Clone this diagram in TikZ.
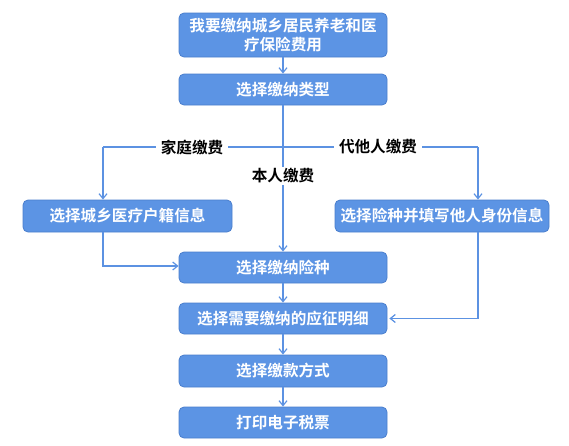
\documentclass[tikz,border=0pt]{standalone}
\usepackage{fontspec}
\setmainfont{Noto Sans CJK SC}[BoldFont={Noto Sans CJK SC Bold}]
\usetikzlibrary{arrows.meta,calc}
\definecolor{boxfill}{RGB}{92,148,228}
\definecolor{boxline}{RGB}{74,126,205}
\definecolor{conn}{RGB}{92,146,226}
\begin{document}
\begin{tikzpicture}[x=1pt,y=-1pt,
  stepbox/.style={draw=boxline,line width=0.8pt,fill=boxfill,rounded corners=5pt,
    text=white,font=\fontsize{15.6}{18.5}\selectfont\bfseries,align=center,inner sep=0pt},
  lbl/.style={fill=white,inner xsep=5pt,inner ysep=2pt,font=\fontsize{15.6}{18}\selectfont\bfseries,text=black},
  conn/.style={draw=conn,line width=1.2pt,-{Straight Barb[length=5pt,width=8pt,line width=1.2pt]}},
  plain/.style={draw=conn,line width=1.2pt}]
\useasboundingbox (0,0) rectangle (569,445);
\node[stepbox,minimum width=208pt,minimum height=44pt] (b1) at (283,35) {我要缴纳城乡居民养老和医\\疗保险费用};
\node[stepbox,minimum width=208pt,minimum height=31pt] (b2) at (283,89.5) {选择缴纳类型};
\node[stepbox,minimum width=209pt,minimum height=32pt] (lb) at (127.5,216) {选择城乡医疗户籍信息};
\node[stepbox,minimum width=214pt,minimum height=32pt] (rb) at (442,216) {选择险种并填写他人身份信息};
\node[stepbox,minimum width=208pt,minimum height=31pt] (b3) at (283,267.5) {选择缴纳险种};
\node[stepbox,minimum width=208pt,minimum height=31pt] (b4) at (283,318.5) {选择需要缴纳的应征明细};
\node[stepbox,minimum width=208pt,minimum height=32pt] (b5) at (283,371) {选择缴款方式};
\node[stepbox,minimum width=208pt,minimum height=31pt] (b6) at (283,422.5) {打印电子税票};
\coordinate (hl) at (103,147);
\coordinate (hr) at (478,147);
\coordinate (lbs) at (103,232);
\coordinate (lbc) at (103,266);
\coordinate (rbs) at (478,232);
\coordinate (rbc) at (478,318.5);
% connectors
\draw[conn] (b1) -- (b2);
\draw[conn] (b2) -- (b3);
\draw[plain] (hl) -- (hr);
\draw[conn] (hl) -- (hl |- lb.north);
\draw[conn] (hr) -- (hr |- rb.north);
\draw[conn] (lbs) -- (lbc) -- (b3.west |- lbc);
\draw[conn] (rbs) -- (rbc) -- ($(b4.east)+(2,0)$);
\draw[conn] (b3) -- (b4);
\draw[conn] (b4) -- (b5);
\draw[conn] (b5) -- (b6);
\node[lbl] (l1) at (192,147) {家庭缴费};
\node[lbl] (l2) at (378,147) {代他人缴费};
\node[lbl] (l3) at (283,176) {本人缴费};
\end{tikzpicture}
\end{document}
